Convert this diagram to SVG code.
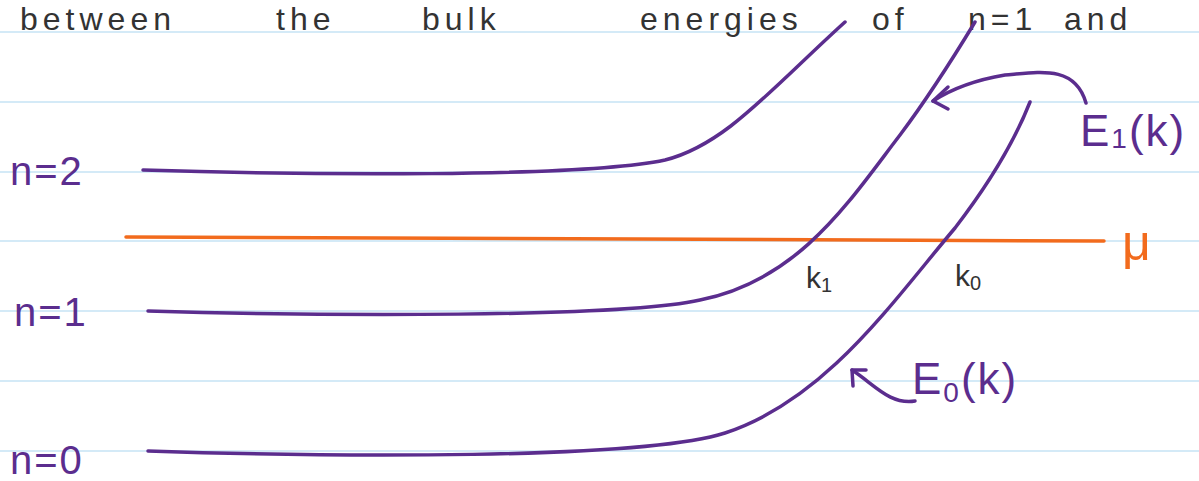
<svg xmlns="http://www.w3.org/2000/svg" width="1199" height="481" viewBox="0 0 1199 481">
<style>
.rule{stroke:#d4eaf7;stroke-width:2}
.band{fill:none;stroke:#5b2d8e;stroke-width:3.5;stroke-linecap:round;stroke-linejoin:round}
.hand{font-family:"Liberation Sans",Arial,sans-serif;fill:#333333}
.pl{font-family:"Liberation Sans",Arial,sans-serif;fill:#5b2d8e}
</style>
<rect width="1199" height="481" fill="#ffffff"/>
<g id="paper">
<line class="rule" x1="0" y1="32" x2="1199" y2="32"/>
<line class="rule" x1="0" y1="102" x2="1199" y2="102"/>
<line class="rule" x1="0" y1="172" x2="1199" y2="172"/>
<line class="rule" x1="0" y1="241" x2="1199" y2="241"/>
<line class="rule" x1="0" y1="311" x2="1199" y2="311"/>
<line class="rule" x1="0" y1="381" x2="1199" y2="381"/>
<line class="rule" x1="0" y1="451" x2="1199" y2="451"/>
</g>
<g id="heading" class="hand" font-size="32" letter-spacing="5">
<text x="20" y="30">between</text>
<text x="276" y="30">the</text>
<text x="422" y="30">bulk</text>
<text x="640" y="30">energies</text>
<text x="872" y="30">of</text>
<text x="968" y="30">n=1</text>
<text x="1064" y="30">and</text>
</g>
<g id="mu-line">
<line x1="126" y1="237" x2="1104" y2="241" stroke="#f26b1d" stroke-width="3.5" stroke-linecap="round"/>
<text x="1122" y="260" font-family="Liberation Sans,Arial,sans-serif" font-size="50" fill="#f26b1d">μ</text>
</g>
<g id="band-n2">
<path class="band" d="M143,170 C300,175 580,178 665,160 C725,145 770,90 845,22"/>
<text class="pl" x="10" y="185" font-size="40" letter-spacing="2">n=2</text>
</g>
<g id="band-n1">
<path class="band" d="M148,311 C320,316 620,318 700,300 C800,280 850,200 900,135 C930,95 955,55 975,22"/>
<text class="pl" x="14" y="326" font-size="40" letter-spacing="2">n=1</text>
</g>
<g id="band-n0">
<path class="band" d="M148,451 C330,457 640,460 725,433 C825,400 890,305 955,228 C992,180 1015,140 1030,102"/>
<text class="pl" x="10" y="474" font-size="40" letter-spacing="2">n=0</text>
</g>
<g id="k-labels" class="hand" font-size="30">
<text x="806" y="288">k<tspan font-size="20" dy="4">1</tspan></text>
<text x="955" y="286">k<tspan font-size="20" dy="4">0</tspan></text>
</g>
<g id="connectors" fill="none" stroke="#5b2d8e" stroke-width="3.5" stroke-linecap="round" stroke-linejoin="round">
<path d="M1086,103 C1075,65 1040,72 1005,75 C975,80 950,90 933,101"/>
<path d="M948,87 L933,101 L948,109"/>
<path d="M915,401 C890,405 875,385 852,370"/>
<path d="M853,386 L852,370 L866,370"/>
</g>
<g id="E-labels" class="pl" font-size="44" letter-spacing="2">
<text x="1080" y="146">E<tspan font-size="28" dy="2">1</tspan><tspan dy="-2">(k)</tspan></text>
<text x="912" y="394">E<tspan font-size="28" dy="8">0</tspan><tspan dy="-8">(k)</tspan></text>
</g>
</svg>
